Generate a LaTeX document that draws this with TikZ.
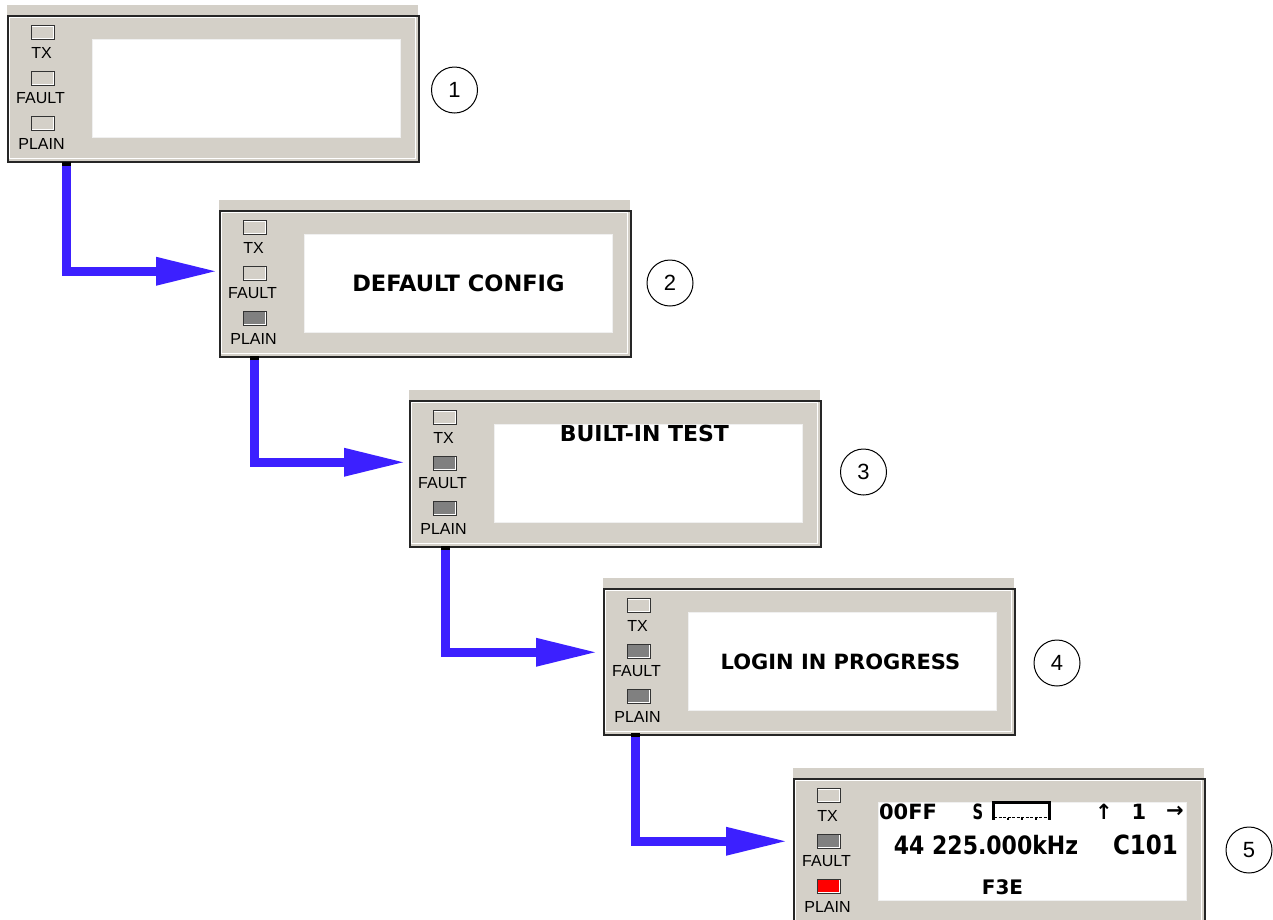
\documentclass[tikz,border=0pt]{standalone}
\usepackage{fontspec}
\usepackage{graphicx}
\setmainfont{Liberation Sans}
\newfontfamily\lcdfont{DejaVu Sans}
\usetikzlibrary{arrows.meta}

\definecolor{panelgray}{HTML}{D4D0C8}
\definecolor{ledoff}{HTML}{D4D0C8}
\definecolor{ledon}{HTML}{808080}
\definecolor{ledred}{HTML}{FF0000}
\definecolor{flowblue}{RGB}{60,32,255}

\tikzset{
  frame/.style={draw=black!85, line width=1.5pt, fill=panelgray, anchor=north west,
    minimum width=411pt, minimum height=146pt, inner sep=0pt},
  screen/.style={fill=white, draw=black!6, line width=0.8pt, anchor=north west,
    minimum width=308pt, minimum height=98pt, inner sep=0pt},
  led/.style={draw=black!80, line width=1pt, minimum width=23pt, minimum height=14pt,
    inner sep=0pt, path picture={\draw[white,line width=2.6pt]
      (path picture bounding box.south west) rectangle (path picture bounding box.north east);}},
  ledlabel/.style={font=\fontsize{16}{16}\selectfont, inner sep=0pt},
  lcd/.style={font=\lcdfont\bfseries\fontsize{22}{24}\selectfont, inner sep=0pt},
  stepnum/.style={circle, draw, line width=1pt, minimum size=46pt, inner sep=0pt,
    font=\fontsize{22}{22}\selectfont},
  port/.style={fill=black, minimum width=9pt, minimum height=4pt, inner sep=0pt, anchor=north},
  flow/.style={draw=flowblue, line width=9pt, line join=miter,
    -{Triangle[length=59pt,width=29pt,line width=0pt]}},
}

% front panel: #1,#2 top-left of the frame, #3 id, #4-#6 lamp fills (TX, FAULT, PLAIN)
\newcommand\drawpanel[6]{%
  \begin{scope}[shift={(#1,#2)}]
    \fill[panelgray] (0,-10) rectangle (411,1);
    \node[frame] (frame#3) at (0,0) {};
    \draw[white, line width=1pt] (2.5,2.5) rectangle (408.5,143.5);
    \node[screen] (screen#3) at (85,24) {};
    \node[led, fill=#4] (tx#3) at (35.5,17.5) {};
    \node[ledlabel] (txl#3) at (34.5,38) {TX};
    \node[led, fill=#5] (fault#3) at (35.5,63) {};
    \node[ledlabel] (faultl#3) at (33.5,83) {FAULT};
    \node[led, fill=#6] (plain#3) at (35.5,108) {};
    \node[ledlabel] (plainl#3) at (34.5,129) {PLAIN};
  \end{scope}}

\begin{document}
\begin{tikzpicture}[x=1pt, y=-1pt]
  \fill[white] (0,0) rectangle (1273,919);
  \useasboundingbox (0,0) rectangle (1273,919);
  \clip (0,0) rectangle (1273,919);

  % the five panel states
  \drawpanel{7}{15}{1}{ledoff}{ledoff}{ledoff}
  \drawpanel{219}{210}{2}{ledoff}{ledoff}{ledon}
  \drawpanel{409}{400}{3}{ledoff}{ledon}{ledon}
  \drawpanel{603}{588}{4}{ledoff}{ledon}{ledon}
  \drawpanel{793}{778}{5}{ledoff}{ledon}{ledred}

  % display messages
  \node[lcd, font=\lcdfont\bfseries\fontsize{22.5}{24}\selectfont] (msg2) at (screen2.center) {DEFAULT CONFIG};
  \node[lcd] (msg3) at ([shift={(-4pt,40pt)}]screen3.center) {BUILT-IN TEST};
  \node[lcd, font=\lcdfont\bfseries\fontsize{21}{24}\selectfont] (msg4) at ([xshift=-2pt]screen4.center) {LOGIN IN PROGRESS};

  % operating display
  \begin{scope}[shift={(793,778)}]
    \node[lcd, font=\lcdfont\bfseries\fontsize{21}{24}\selectfont] (mode) at (115,34) {00FF};
    \node[lcd, font=\lcdfont\bfseries\fontsize{21}{24}\selectfont] (slabel) at (185,34) {\scalebox{0.7}[1]{S}};
    \draw[line width=3pt] (199,24.5) -- (258,24.5);
    \draw[line width=2.5pt] (200.5,23) -- (200.5,42) (256.5,23) -- (256.5,42);
    \draw[line width=1.2pt, dash pattern=on 3pt off 1.5pt] (201,39.5) -- (256,39.5);
    \draw[line width=1.5pt] (215,39.5) -- (215,42) (229,39.5) -- (229,42) (243,39.5) -- (243,42);
    \node[lcd, font=\lcdfont\bfseries\fontsize{21}{24}\selectfont] (up) at (311,34) {↑};
    \node[lcd, font=\lcdfont\bfseries\fontsize{21}{24}\selectfont] (chan) at (346,34) {1};
    \node[lcd, font=\lcdfont\bfseries\fontsize{21}{24}\selectfont] (right) at (382,34) {→};
    \node[lcd] (freq) at (193,67) {\scalebox{1}[1.15]{44 225.000kHz}};
    \node[lcd, font=\lcdfont\bfseries\fontsize{23}{24}\selectfont] (chname) at (352.5,67) {\scalebox{1}[1.15]{C101}};
    \node[lcd, font=\lcdfont\bfseries\fontsize{20}{24}\selectfont] (wave) at (209.5,109.5) {F3E};
  \end{scope}

  % step numbers
  \node[stepnum] (n1) at (454.5,90) {1};
  \node[stepnum] (n2) at (670,283) {2};
  \node[stepnum] (n3) at (863.5,472) {3};
  \node[stepnum] (n4) at (1057,663) {4};
  \node[stepnum] (n5) at (1249,850) {5};

  % transitions
  \node[port] (out1) at (66,161.5) {};
  \node[port] (out2) at (254.5,355.5) {};
  \node[port] (out3) at (445.5,545.5) {};
  \node[port] (out4) at (635.5,732.5) {};
  \coordinate (in2) at ([shift={(-4pt,12.5pt)}]frame2.west);
  \coordinate (in3) at ([shift={(-6pt,11.5pt)}]frame3.west);
  \coordinate (in4) at ([shift={(-8pt,9.5pt)}]frame4.west);
  \coordinate (in5) at ([shift={(-8pt,10.5pt)}]frame5.west);
  \draw[flow] (out1.south) |- (in2);
  \draw[flow] (out2.south) |- (in3);
  \draw[flow] (out3.south) |- (in4);
  \draw[flow] (out4.south) |- (in5);
\end{tikzpicture}
\end{document}
